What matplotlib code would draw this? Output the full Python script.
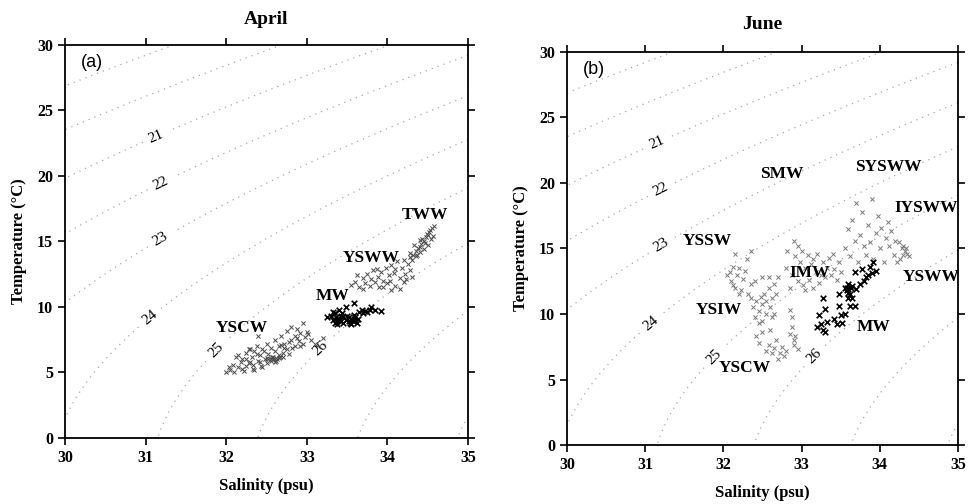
import numpy as np
import matplotlib
matplotlib.use("Agg")
import matplotlib.pyplot as plt

# ---------------- data ----------------
apr_yscw_S = [32.00,32.05,32.08,32.10,32.12,32.15,32.18,32.20,32.22,32.25,32.25,32.28,32.30,32.32,32.33,32.35,32.38,32.40,
              32.42,32.43,32.45,32.48,32.50,32.50,32.52,32.55,32.55,32.58,32.60,32.60,32.62,32.65,32.65,32.68,32.70,32.70,
              32.72,32.75,32.75,32.78,32.80,32.80,32.82,32.85,32.85,32.88,32.90,32.92,32.95,32.95,32.98,33.00,33.05,33.10,
              33.20,32.40,32.30,32.15,32.35,32.45,32.60,32.65,32.55,32.50,32.58,32.62,32.20,32.28,32.38,32.47,32.68,32.72,
              32.78,32.88,32.92,33.02,32.03,32.24,32.52,32.57,32.63,32.67,32.42,32.33]
apr_yscw_T = [5.0,5.2,5.6,5.0,6.2,5.4,5.8,6.0,5.1,6.5,5.5,6.8,5.8,6.2,5.3,6.6,7.0,5.9,
              6.3,5.5,6.8,6.0,7.2,5.7,6.4,6.9,5.9,6.2,7.5,6.6,5.9,7.0,6.1,7.8,6.5,6.2,
              7.2,8.2,6.8,6.4,7.5,8.5,6.9,7.8,7.0,8.3,7.4,8.0,8.8,7.2,7.7,8.1,7.5,7.2,
              7.6,7.8,6.8,6.3,5.2,5.4,5.8,6.3,6.0,6.1,6.0,6.1,5.3,5.7,6.4,6.6,7.1,6.9,
              7.3,7.6,7.0,7.9,5.4,6.0,6.0,6.2,6.0,6.2,5.8,5.6]

apr_mw_S = [33.30,33.32,33.35,33.35,33.38,33.38,33.40,33.40,33.42,33.45,33.45,33.48,33.48,33.50,33.52,33.55,33.55,
            33.58,33.58,33.60,33.62,33.65,33.68,33.70,33.72,33.75,33.78,33.80,33.85,33.92,33.36,33.42,33.52,33.60,
            33.25,33.33,33.44,33.57,33.63,33.37,33.40,33.53,33.56]
apr_mw_T = [9.3,9.0,8.8,9.5,9.1,8.7,9.0,9.8,8.9,9.2,8.8,9.0,10.0,9.3,8.9,9.1,8.7,
            9.4,10.3,9.0,8.8,9.6,9.8,9.5,9.7,9.6,9.8,10.0,9.8,9.7,9.2,9.3,9.2,9.2,
            9.2,9.6,9.5,8.9,9.1,8.9,9.1,8.8,9.0]

apr_ysww_S = [33.55,33.60,33.65,33.70,33.72,33.75,33.78,33.80,33.82,33.85,33.88,33.90,33.92,33.95,33.98,34.00,34.02,
              34.05,34.05,34.08,34.10,34.10,34.12,34.15,34.18,34.20,34.20,34.22,34.25,34.28,34.28,34.30,33.70,33.95,
              34.15,33.62,33.87,34.03,34.23]
apr_ysww_T = [11.7,11.9,11.5,12.2,11.8,12.5,11.6,12.1,12.8,11.9,12.3,11.5,12.7,12.0,13.0,11.8,12.4,
              11.3,13.2,12.6,11.6,12.9,13.5,12.2,13.0,11.9,13.6,12.5,13.3,12.8,13.8,12.3,11.4,11.5,
              11.4,12.4,12.9,12.0,12.1]

apr_tww_S = [34.30,34.32,34.35,34.38,34.40,34.42,34.45,34.45,34.48,34.50,34.50,34.52,34.55,34.56,34.58,34.35,34.40,
             34.47,34.43,34.53,34.37,34.28,34.33,34.41,34.49,34.54]
apr_tww_T = [13.6,14.0,14.3,14.5,14.2,14.8,15.0,14.4,15.3,15.5,14.7,15.7,16.0,15.4,16.2,13.9,14.6,
             14.9,15.2,15.9,14.0,14.1,14.7,15.1,15.6,15.2]

jun_grey_S = [32.08,32.10,32.12,32.15,32.15,32.18,32.20,32.22,32.25,32.28,32.30,32.32,32.35,32.35,32.12,32.20,32.05,
              32.35,32.38,32.40,32.42,32.45,32.48,32.50,32.50,32.52,32.55,32.55,32.58,32.60,32.62,32.62,32.65,32.68,
              32.70,32.58,32.50,32.65,32.40,32.45,
              32.42,32.45,32.50,32.55,32.58,32.60,32.62,32.65,32.68,32.70,32.72,32.75,32.78,32.80,32.85,32.88,32.90,
              32.90,32.92,32.95,32.88,32.85,
              32.80,32.82,32.85,32.88,32.90,32.92,32.95,32.95,32.98,33.00,33.02,33.05,33.05,33.08,33.10,33.12,33.15,
              33.15,33.18,33.20,33.22,33.25,33.28,33.30,33.32,33.35,33.38,33.40,33.42,33.45,33.48,33.50,
              33.55,33.60,33.62,33.65,33.68,33.70,33.72,33.75,33.78,33.80,33.82,33.85,33.88,33.90,33.92,33.95,33.98,
              34.00,34.02,34.05,34.08,34.10,34.12,34.15,34.18,34.20,
              34.25,34.28,34.30,34.32,34.35,34.38,34.30,34.26,34.34,34.22]
jun_grey_T = [13.2,12.5,13.6,14.6,12.0,13.0,13.5,11.8,12.7,13.3,14.2,11.5,14.8,12.3,12.2,11.5,13.0,
              11.2,10.5,9.8,11.0,10.2,11.3,9.5,10.8,11.5,10.0,11.0,12.0,10.5,11.2,9.8,10.0,11.5,
              12.8,12.8,12.8,12.3,12.5,9.3,
              8.3,7.8,8.6,7.2,7.6,8.8,7.0,7.4,8.0,6.6,7.0,7.5,6.8,7.2,8.5,9.0,8.0,
              7.6,8.3,7.3,9.8,10.3,
              13.5,14.8,12.0,13.0,15.6,14.4,15.2,12.5,14.0,14.8,12.2,13.5,11.8,14.5,12.6,13.8,14.2,
              12.0,13.2,14.6,12.4,13.0,14.0,12.8,13.5,14.3,13.0,14.6,13.4,12.6,14.0,13.2,
              15.0,16.5,14.4,17.2,15.6,18.5,14.0,16.0,17.8,15.2,14.5,16.8,15.5,18.8,14.2,16.2,17.5,
              15.0,16.6,14.0,15.8,17.0,15.2,16.3,14.5,15.6,
              15.5,15.0,15.2,14.8,14.6,14.4,14.5,14.2,15.0,14.0]

jun_mw_S = [33.20,33.22,33.25,33.28,33.28,33.30,33.30,33.32,33.42,33.45,33.48,33.48,33.50,33.52,33.55,33.55,33.58,
            33.60,33.60,33.62,33.62,33.65,33.65,33.68,33.68,33.70,33.75,33.78,33.80,33.82,33.85,33.88,33.90,33.92,
            33.95,33.58,33.60,33.63]
jun_mw_T = [9.0,9.9,9.2,8.8,11.2,10.4,8.6,9.4,9.6,9.2,10.6,11.5,9.9,9.3,10.0,12.0,11.8,
            11.2,12.3,11.5,10.6,11.2,12.1,13.2,10.6,11.9,12.3,13.4,12.5,12.8,13.0,13.6,13.1,14.0,
            13.3,12.0,11.6,12.0]

sigma_labeled = [21, 22, 23, 24, 25, 26]
sigma_unlabeled = [18, 19, 20, 27, 28]

apr_labels = ["TWW", "YSWW", "MW", "YSCW"]
apr_label_S = [34.46, 33.80, 33.32, 32.19]
apr_label_T = [17.0, 13.7, 10.8, 8.4]

jun_labels = ["SMW", "SYSWW", "IYSWW", "YSSW", "IMW", "YSWW", "YSIW", "MW", "YSCW"]
jun_label_S = [32.75, 34.11, 34.60, 31.80, 33.10, 34.66, 31.94, 33.92, 32.28]
jun_label_T = [20.7, 21.2, 18.1, 15.6, 13.1, 12.8, 10.3, 9.0, 5.9]


def sigma_t(S, T):
    rw = (999.842594 + 6.793952e-2*T - 9.095290e-3*T**2 + 1.001685e-4*T**3
          - 1.120083e-6*T**4 + 6.536332e-9*T**5)
    A = 0.824493 - 4.0899e-3*T + 7.6438e-5*T**2 - 8.2467e-7*T**3 + 5.3875e-9*T**4
    B = -5.72466e-3 + 1.0227e-4*T - 1.6546e-6*T**2
    C = 4.8314e-4
    return rw + A*S + B*S**1.5 + C*S**2 - 1000.0


serif = "Liberation Serif"
fig = plt.figure(figsize=(9.7, 5.04), dpi=100)
axA = fig.add_axes([0.067, 0.131, 0.4155, 0.780])
axB = fig.add_axes([0.5845, 0.117, 0.403, 0.780])

Sg = np.linspace(30, 35, 300)
Tg = np.linspace(0, 30, 300)
SS, TT = np.meshgrid(Sg, Tg)
SIG = sigma_t(SS, TT)

lab_pos_A = [(31.15, 22.8), (31.2, 19.3), (31.2, 15.0), (31.05, 9.2), (31.9, 6.5), (33.15, 7.0)]
lab_pos_B = [(31.15, 23.0), (31.2, 19.5), (31.2, 15.3), (31.05, 9.4), (31.9, 6.6), (33.15, 6.9)]

cline = dict(colors="#a8a8a8", linewidths=0.9, linestyles=[(0, (1, 4))])

for ax, title, tag, labpos, tpad in [(axA, "April", "(a)", lab_pos_A, 15),
                                     (axB, "June", "(b)", lab_pos_B, 16.5)]:
    ax.contour(SS, TT, SIG, levels=sigma_unlabeled, **cline)
    cs = ax.contour(SS, TT, SIG, levels=sigma_labeled, **cline)
    cl = ax.clabel(cs, manual=labpos, inline=True, fmt="%d",
                   fontsize=11, colors="black")
    for t in cl:
        t.set_fontfamily(serif)
    ax.set_xlim(30, 35)
    ax.set_ylim(0, 30)
    ax.set_xticks([30, 31, 32, 33, 34, 35])
    ax.set_yticks([0, 5, 10, 15, 20, 25, 30])
    ax.tick_params(direction="out", top=True, right=True, labeltop=False,
                   labelright=False, length=5, width=1.2, labelsize=11.5)
    for lbl in ax.get_xticklabels() + ax.get_yticklabels():
        lbl.set_fontfamily(serif)
        lbl.set_fontweight("bold")
    for sp in ax.spines.values():
        sp.set_linewidth(1.3)
    ax.set_title(title, fontfamily=serif, fontweight="bold", fontsize=14, pad=tpad)
    ax.set_xlabel("Salinity (psu)", fontfamily=serif, fontweight="bold", fontsize=12, labelpad=9)
    ax.set_ylabel("Temperature (°C)", fontfamily=serif, fontweight="bold", fontsize=12, labelpad=7)
    ax.text(30.2, 29.3, tag, fontfamily="Liberation Sans", fontsize=13, va="top", ha="left")

# April scatter
for S, T in [(apr_yscw_S, apr_yscw_T), (apr_ysww_S, apr_ysww_T), (apr_tww_S, apr_tww_T)]:
    axA.scatter(S, T, marker="x", s=9, c="#4a4a4a", linewidths=0.7, zorder=3)
axA.scatter(apr_mw_S, apr_mw_T, marker="x", s=16, c="black", linewidths=1.2, zorder=4)
for name, s, t in zip(apr_labels, apr_label_S, apr_label_T):
    axA.text(s, t, name, fontfamily=serif, fontweight="bold", fontsize=12.5,
             ha="center", va="center", zorder=5)

# June scatter
axB.scatter(jun_grey_S, jun_grey_T, marker="x", s=9, c="#7a7a7a", linewidths=0.7, zorder=3)
axB.scatter(jun_mw_S, jun_mw_T, marker="x", s=16, c="black", linewidths=1.2, zorder=4)
for name, s, t in zip(jun_labels, jun_label_S, jun_label_T):
    axB.text(s, t, name, fontfamily=serif, fontweight="bold", fontsize=12.5,
             ha="center", va="center", zorder=5)

fig.savefig("out.png", dpi=100)
